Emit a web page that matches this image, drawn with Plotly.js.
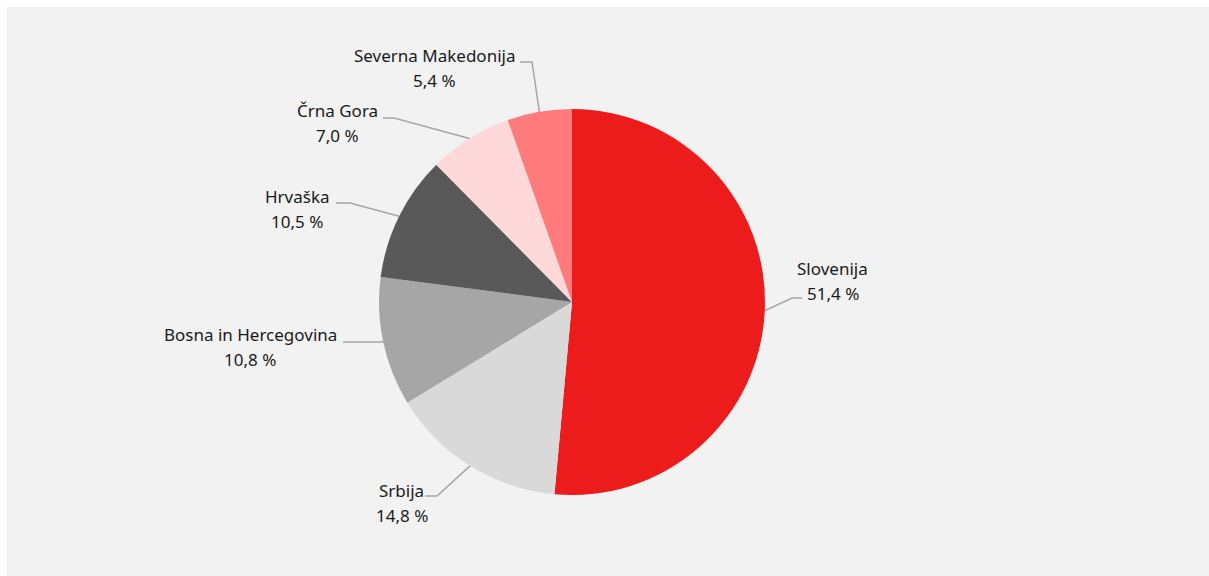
<!DOCTYPE html>
<html>
<head>
<meta charset="utf-8">
<script src="https://cdn.plot.ly/plotly-3.0.1.min.js"></script>
<style>
html,body{margin:0;padding:0;background:#ffffff;}
#chart{position:absolute;left:0;top:0;width:1209px;height:576px;}
</style>
</head>
<body>
<div id="chart"></div>
<script>
// ---- data ----
const countries = ["Slovenija", "Srbija", "Bosna in Hercegovina", "Hrvaška", "Črna Gora", "Severna Makedonija"];
const shares = [51.4, 14.8, 10.8, 10.5, 7.0, 5.4];
const shareLabels = ["51,4 %", "14,8 %", "10,8 %", "10,5 %", "7,0 %", "5,4 %"];

// ---- styles / layout config ----
const sliceColors = ["#ed1c1c", "#d9d9d9", "#a6a6a6", "#595959", "#ffd9d9", "#ff7a7a"];
const W = 1209, H = 576;
const cx = 572, cy = 302, R = 193;          // pie centre and radius in px
// label text anchor (centre of two-line label, px) and leader elbow/end points (px)
const labelLayout = [
  {tx: 833, ty: 281, elbow: [792, 298], end: [802, 298]},
  {tx: 402, ty: 503, elbow: [437, 496], end: [425, 496]},
  {tx: 250, ty: 347, elbow: [383, 342], end: [343, 342]},
  {tx: 297, ty: 209, elbow: [350, 203], end: [336, 203]},
  {tx: 337, ty: 123, elbow: [394, 118], end: [383, 118]},
  {tx: 434, ty: 68,  elbow: [532, 62],  end: [520, 62]}
];
const textColor = "#1a1a1a";
const lineColor = "#a6a6a6";
const fontFam = "Noto Sans, Open Sans, sans-serif";
const fontSize = 17;

const px = x => x / W;
const py = y => 1 - y / H;

const total = shares.reduce((a, b) => a + b, 0);
let cum = 0;
const annotations = [];
const shapes = [];
shapes.push({type: "rect", xref: "paper", yref: "paper", x0: px(7), x1: 1, y0: 0, y1: py(7),
  fillcolor: "#f2f2f2", line: {width: 0}, layer: "below"});

shares.forEach((v, i) => {
  const theta = 2 * Math.PI * (cum + v / 2) / total;
  cum += v;
  const ex = cx + R * Math.sin(theta);
  const ey = cy - R * Math.cos(theta);
  const L = labelLayout[i];
  shapes.push({type: "path", xref: "paper", yref: "paper",
    path: `M ${px(ex)},${py(ey)} L ${px(L.elbow[0])},${py(L.elbow[1])} L ${px(L.end[0])},${py(L.end[1])}`,
    line: {color: lineColor, width: 1.5}});
  annotations.push({xref: "paper", yref: "paper", x: px(L.tx), y: py(L.ty - 12.5),
    text: countries[i], showarrow: false, xanchor: "center", yanchor: "middle",
    font: {family: fontFam, size: fontSize, color: textColor}});
  annotations.push({xref: "paper", yref: "paper", x: px(L.tx), y: py(L.ty + 12.5),
    text: shareLabels[i], showarrow: false, xanchor: "center", yanchor: "middle",
    font: {family: fontFam, size: fontSize, color: textColor}});
});

const trace = {
  type: "pie",
  labels: countries,
  values: shares,
  sort: false,
  direction: "clockwise",
  rotation: 0,
  textinfo: "none",
  hoverinfo: "label+percent",
  marker: {colors: sliceColors, line: {width: 0}},
  domain: {x: [px(cx - R), px(cx + R)], y: [py(cy + R), py(cy - R)]},
  showlegend: false
};

Plotly.newPlot("chart", [trace], {
  width: W, height: H,
  margin: {l: 0, r: 0, t: 0, b: 0},
  paper_bgcolor: "#ffffff",
  showlegend: false,
  shapes: shapes,
  annotations: annotations
}, {displayModeBar: false, staticPlot: true});
</script>
</body>
</html>
